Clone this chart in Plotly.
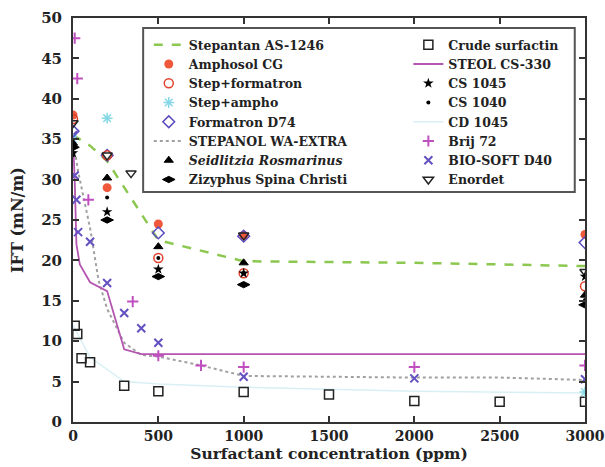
import plotly.graph_objects as go

# ---------------- data ----------------
stepantan_x = [0, 100, 200, 300, 500, 1000, 2000, 3000]
stepantan_y = [35.5, 34.2, 32.3, 29.0, 22.5, 19.9, 19.7, 19.3]

amphosol_x = [0, 200, 500, 1000, 3000]
amphosol_y = [38.0, 29.0, 24.5, 23.1, 23.2]

stepform_x = [0, 200, 500, 1000, 3000]
stepform_y = [37.5, 33.0, 20.3, 18.4, 16.8]

stepampho_x = [0, 200, 3000]
stepampho_y = [35.0, 37.6, 3.7]

formatron_x = [0, 200, 500, 1000, 3000]
formatron_y = [36.0, 33.0, 23.4, 23.0, 22.2]

stepanol_x = [0, 30, 60, 100, 150, 200, 300, 400, 500, 750, 1000, 2000, 2500, 3000]
stepanol_y = [35.0, 31.0, 28.0, 24.0, 17.5, 14.0, 9.8, 8.3, 8.1, 7.0, 5.7, 5.5, 5.5, 5.2]

seidlitzia_x = [0, 200, 500, 1000, 3000]
seidlitzia_y = [34.5, 30.2, 21.7, 19.7, 15.7]

zizyphus_x = [0, 200, 500, 1000, 3000]
zizyphus_y = [34.0, 25.0, 18.0, 17.0, 14.5]

crude_x = [10, 25, 50, 100, 300, 500, 1000, 1500, 2000, 2500, 3000]
crude_y = [11.9, 10.9, 7.9, 7.4, 4.5, 3.8, 3.7, 3.4, 2.6, 2.5, 2.5]

steol_x = [0, 10, 20, 40, 100, 200, 300, 400, 3000]
steol_y = [35.0, 30.0, 22.0, 19.5, 17.3, 16.2, 9.0, 8.4, 8.4]

cs1045_x = [0, 200, 500, 1000, 3000]
cs1045_y = [33.3, 26.0, 18.9, 18.4, 18.0]

cs1040_x = [0, 200, 500, 1000, 3000]
cs1040_y = [33.0, 27.8, 20.3, 18.4, 15.1]

cd1045_x = [0, 100, 300, 500, 1000, 2000, 3000]
cd1045_y = [12.0, 8.0, 5.0, 4.7, 4.3, 3.8, 3.6]

brij_x = [10, 25, 90, 350, 500, 750, 1000, 2000, 3000]
brij_y = [47.5, 42.5, 27.5, 14.9, 8.2, 7.0, 6.8, 6.8, 7.0]

biosoft_x = [0, 10, 20, 30, 100, 200, 300, 400, 500, 1000, 2000, 3000]
biosoft_y = [35.5, 30.5, 27.5, 23.5, 22.3, 17.2, 13.5, 11.6, 9.8, 5.6, 5.4, 5.3]

enordet_x = [0, 200, 340, 1000, 3000]
enordet_y = [37.0, 33.0, 30.8, 23.1, 18.6]

x_ticks = [0, 500, 1000, 1500, 2000, 2500, 3000]
y_ticks = [0, 5, 10, 15, 20, 25, 30, 35, 40, 45, 50]

# ---------------- figure ----------------
fig = go.Figure()

def line(x, y, name, color, dash, width, legend):
    fig.add_trace(go.Scatter(x=x, y=y, name=name, mode="lines",
                             line=dict(color=color, dash=dash, width=width),
                             legend=legend))

def mark(x, y, name, color, symbol, size, legend, lw=1.5):
    fig.add_trace(go.Scatter(x=x, y=y, name=name, mode="markers",
                             marker=dict(color=color, symbol=symbol, size=size,
                                         line=dict(color=color, width=lw)),
                             legend=legend))

# background lines first
line(cd1045_x, cd1045_y, "CD 1045", "#d8f0f5", "solid", 1.5, "legend2")
line(stepanol_x, stepanol_y, "STEPANOL WA-EXTRA", "#a0a0a0", "dot", 2, "legend")
line(steol_x, steol_y, "STEOL CS-330", "#b455b0", "solid", 1.8, "legend2")
line(stepantan_x, stepantan_y, "Stepantan AS-1246", "#8cc850", "dash", 2.5, "legend")

mark(crude_x, crude_y, "Crude surfactin", "#222222", "square-open", 9, "legend2")
mark(brij_x, brij_y, "Brij 72", "#c050c0", "cross-thin-open", 8, "legend2", 2)
mark(biosoft_x, biosoft_y, "BIO-SOFT D40", "#6450c0", "x-thin-open", 8, "legend2", 2)
mark(stepampho_x, stepampho_y, "Step+ampho", "#86d8e6", "asterisk-open", 9, "legend", 1.5)
mark(amphosol_x, amphosol_y, "Amphosol CG", "#f0583c", "circle", 9, "legend", 0)
mark(formatron_x, formatron_y, "Formatron D74", "#5a4cc0", "diamond-open", 9, "legend")
mark(stepform_x, stepform_y, "Step+formatron", "#e0402c", "circle-open", 9, "legend")
mark(enordet_x, enordet_y, "Enordet", "#222222", "triangle-down-open", 9, "legend2")
mark(seidlitzia_x, seidlitzia_y, "<i>Seidlitzia Rosmarinus</i>", "#000000", "triangle-up", 8, "legend", 1)
mark(zizyphus_x, zizyphus_y, "Zizyphus Spina Christi", "#000000", "diamond-wide", 9, "legend", 1)
mark(cs1045_x, cs1045_y, "CS 1045", "#000000", "star", 8, "legend2", 0)
mark(cs1040_x, cs1040_y, "CS 1040", "#000000", "circle", 4, "legend2", 0)

order1 = ["Stepantan AS-1246", "Amphosol CG", "Step+formatron", "Step+ampho",
          "Formatron D74", "STEPANOL WA-EXTRA", "<i>Seidlitzia Rosmarinus</i>",
          "Zizyphus Spina Christi"]
order2 = ["Crude surfactin", "STEOL CS-330", "CS 1045", "CS 1040", "CD 1045",
          "Brij 72", "BIO-SOFT D40", "Enordet"]
for t in fig.data:
    if t.name in order1:
        t.legendrank = 100 + order1.index(t.name)
    else:
        t.legendrank = 100 + order2.index(t.name)

font_family = "DejaVu Serif"
leg_font = dict(family=font_family, size=12.5, color="#222222", weight="bold")

fig.update_layout(
    width=605, height=467,
    margin=dict(l=73, r=20, t=18, b=45),
    paper_bgcolor="white", plot_bgcolor="white",
    font=dict(family=font_family, color="#222222", weight="bold"),
    legend=dict(x=0.148, y=0.970, xanchor="left", yanchor="top",
                bgcolor="rgba(0,0,0,0)", borderwidth=0, font=leg_font,
                traceorder="normal", tracegroupgap=0, itemwidth=30),
    legend2=dict(x=0.655, y=0.970, xanchor="left", yanchor="top",
                 bgcolor="rgba(0,0,0,0)", borderwidth=0, font=leg_font,
                 traceorder="normal", tracegroupgap=0, itemwidth=30),
    shapes=[dict(type="rect", xref="paper", yref="paper",
                 x0=0.137, x1=0.98, y0=0.569, y1=0.975,
                 line=dict(color="#555555", width=2), fillcolor="white",
                 layer="above")],
)

fig.update_xaxes(range=[0, 3000], tickvals=x_ticks, automargin=False,
                 ticks="inside", ticklen=6, tickwidth=1.5, tickcolor="#333",
                 showline=True, linecolor="#333", linewidth=2, mirror="allticks",
                 showgrid=False, zeroline=False, ticklabeloverflow="allow",
                 tickfont=dict(size=14, family=font_family, weight="bold"),
                 title=dict(text="Surfactant concentration (ppm)", standoff=0,
                            font=dict(size=15.5, family=font_family, weight="bold")))
fig.update_yaxes(range=[0, 50], tickvals=y_ticks, automargin=False,
                 ticks="inside", ticklen=6, tickwidth=1.5, tickcolor="#333",
                 showline=True, linecolor="#333", linewidth=2, mirror="allticks",
                 showgrid=False, zeroline=False, ticklabelstandoff=6,
                 tickfont=dict(size=15, family=font_family, weight="bold"),
                 title=dict(text="IFT (mN/m)", standoff=14,
                            font=dict(size=16, family=font_family, weight="bold")))

fig.write_html("out.html", config={"displayModeBar": False},
               post_script="document.body.style.margin='0';document.body.style.overflow='hidden';")
